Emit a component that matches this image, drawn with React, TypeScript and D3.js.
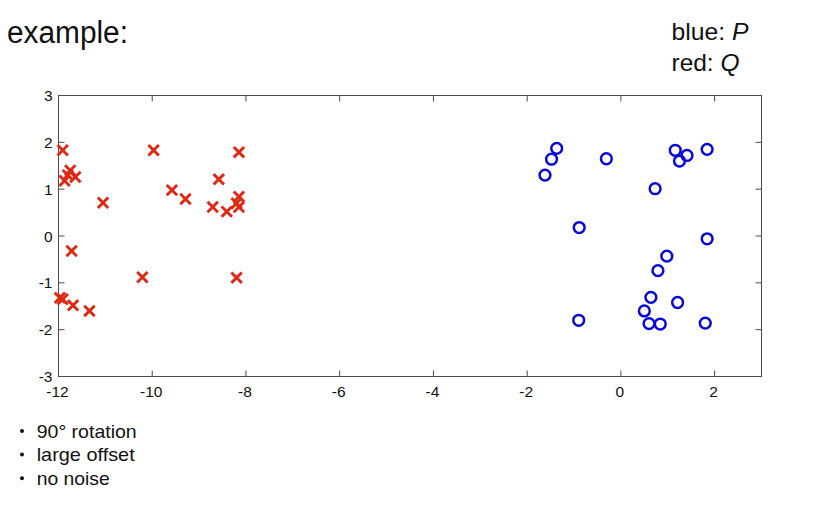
import React from "react";
import * as d3 from "d3";

// Red crosses: Q
const qX = [-11.91, -11.75, -11.87, -11.64, -11.80, -11.05, -11.72, -11.91, -11.97, -11.69, -11.34, -9.97, -10.21, -9.58, -9.29, -8.58, -8.71, -8.41, -8.15, -8.15, -8.20, -8.15, -8.20];
const qY = [1.83, 1.40, 1.18, 1.26, 1.30, 0.71, -0.32, -1.35, -1.32, -1.48, -1.60, 1.83, -0.88, 0.98, 0.79, 1.21, 0.62, 0.52, 0.84, 0.62, 0.70, 1.79, -0.89];

// Blue circles: P
const pX = [-1.37, -1.48, -1.62, -0.31, -0.89, -0.90, 0.73, 1.16, 1.41, 1.25, 1.84, 1.84, 0.98, 0.79, 0.64, 1.21, 0.50, 0.60, 0.84, 1.80];
const pY = [1.87, 1.64, 1.30, 1.65, 0.18, -1.80, 1.01, 1.83, 1.72, 1.60, 1.85, -0.06, -0.43, -0.74, -1.31, -1.42, -1.60, -1.87, -1.88, -1.86];

const xTicks = [-12, -10, -8, -6, -4, -2, 0, 2];
const yTicks = [-3, -2, -1, 0, 1, 2, 3];
const bullets = ["90° rotation", "large offset", "no noise"];
const bulletWidths = [100, 98, 73];

export default function App() {
  const W = 826, H = 520;
  const x = d3.scaleLinear().domain([-12, 3]).range([58.5, 761.5]);
  const y = d3.scaleLinear().domain([-3, 3]).range([376.5, 95.5]);
  const tl = 6;
  const axisColor = "#4a4a4a";
  const font = "Arial, 'Liberation Sans', sans-serif";
  const s = 5.2;
  return (
    <svg width={W} height={H} style={{ position: "absolute", left: 0, top: 0, background: "#fff" }}>
      <rect x={0} y={0} width={W} height={H} fill="#ffffff" />
      <text x={7} y={43} fontFamily={font} fontSize={31} fill="#111" textLength={121} lengthAdjust="spacingAndGlyphs">example:</text>
      <text x={671.5} y={39.5} fontFamily={font} fontSize={24} fill="#111" textLength={77} lengthAdjust="spacingAndGlyphs">blue: <tspan fontStyle="italic">P</tspan></text>
      <text x={671.5} y={71} fontFamily={font} fontSize={24} fill="#111" textLength={68} lengthAdjust="spacingAndGlyphs">red: <tspan fontStyle="italic">Q</tspan></text>

      <rect x={x(-12)} y={y(3)} width={x(3) - x(-12)} height={y(-3) - y(3)} fill="none" stroke={axisColor} strokeWidth={1} />
      {xTicks.map((t) => (
        <g key={"xt" + t}>
          <line x1={x(t)} x2={x(t)} y1={y(-3)} y2={y(-3) - tl} stroke={axisColor} />
          <line x1={x(t)} x2={x(t)} y1={y(3)} y2={y(3) + tl} stroke={axisColor} />
          <text x={x(t) - 1} y={y(-3) + 20} textAnchor="middle" fontFamily={font} fontSize={15.5} fill="#111">{t}</text>
        </g>
      ))}
      {yTicks.map((t) => (
        <g key={"yt" + t}>
          <line x1={x(-12)} x2={x(-12) + tl} y1={y(t)} y2={y(t)} stroke={axisColor} />
          <line x1={x(3)} x2={x(3) - tl} y1={y(t)} y2={y(t)} stroke={axisColor} />
          <text x={x(-12) - 6} y={y(t) + 5.5} textAnchor="end" fontFamily={font} fontSize={15.5} fill="#111">{t}</text>
        </g>
      ))}

      {qX.map((v, i) => (
        <g key={"q" + i} stroke="#e02814" strokeWidth={2.9} strokeLinecap="butt">
          <line x1={x(v) - s} y1={y(qY[i]) - s} x2={x(v) + s} y2={y(qY[i]) + s} />
          <line x1={x(v) - s} y1={y(qY[i]) + s} x2={x(v) + s} y2={y(qY[i]) - s} />
        </g>
      ))}
      {pX.map((v, i) => (
        <circle key={"p" + i} cx={x(v)} cy={y(pY[i])} r={5.4} fill="none" stroke="#0a0ad8" strokeWidth={2.5} />
      ))}

      {bullets.map((b, i) => (
        <g key={"b" + i}>
          <circle cx={22} cy={431 + i * 23.6} r={2} fill="#111" />
          <text x={36.7} y={437.7 + i * 23.6} fontFamily={font} fontSize={18.5} fill="#111" textLength={bulletWidths[i]} lengthAdjust="spacingAndGlyphs">{b}</text>
        </g>
      ))}
    </svg>
  );
}
